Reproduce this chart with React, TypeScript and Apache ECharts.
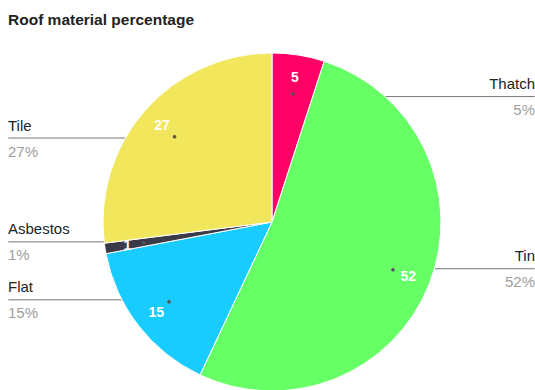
import React, { useEffect, useRef } from "react";
import * as echarts from "echarts";

const titleText = "Roof material percentage";
const categories = ["Thatch", "Tin", "Flat", "Asbestos", "Tile"];
const values = [5, 52, 15, 1, 27];
const colors = ["#FF0066", "#66FF66", "#19CCFF", "#3A3A48", "#F1E65C"];

const FONT = "'Liberation Sans', Arial, sans-serif";
const CENTER: [number, number] = [264, 222];
const R = 169;
const R_LABEL = 127;

export default function App() {
  const ref = useRef<HTMLDivElement>(null);
  useEffect(() => {
    if (!ref.current) return;
    const chart = echarts.init(ref.current, undefined, { renderer: "svg" });
    const data = categories.map((name, i) => ({ name, value: values[i] }));
    const transparent = { color: "rgba(0,0,0,0)", borderWidth: 0 };
    const common = {
      type: "pie" as const,
      center: CENTER,
      startAngle: 90,
      clockwise: true,
      silent: true,
      emphasis: { disabled: true },
      labelLayout: { hideOverlap: false },
      data,
    };
    chart.setOption({
      animation: false,
      title: {
        text: titleText,
        left: 0,
        top: 11,
        padding: 0,
        textStyle: { fontFamily: FONT, fontSize: 15.5, fontWeight: "bold", color: "#222" },
      },
      color: colors,
      series: [
        {
          ...common,
          radius: [0, R],
          itemStyle: { borderColor: "#ffffff", borderWidth: 1 },
          label: { show: false },
          labelLine: { show: false },
        },
        {
          ...common,
          radius: [118, R],
          itemStyle: transparent,
          label: {
            show: true,
            position: "inside",
            formatter: (p: any) => String(p.value),
            color: "#ffffff",
            fontFamily: FONT,
            fontSize: 14,
            fontWeight: "bold",
          },
          labelLine: { show: false },
        },
        {
          ...common,
          radius: [R_LABEL - 3, R_LABEL + 3],
          itemStyle: transparent,
          label: {
            show: true,
            position: "inside",
            formatter: "●",
            color: "#555555",
            fontSize: 8,
          },
          labelLine: { show: false },
        },
        {
          ...common,
          radius: [0, R_LABEL],
          itemStyle: transparent,
          label: {
            show: true,
            position: "outside",
            alignTo: "edge",
            edgeDistance: 0,
            distanceToLabelLine: 0,
            formatter: " ",
            fontSize: 1,
          },
          labelLine: {
            show: true,
            length: 0,
            length2: 10,
            lineStyle: { color: "#777777", width: 1 },
          },
        },
        {
          ...common,
          radius: [0, R_LABEL],
          itemStyle: transparent,
          label: {
            show: true,
            position: "outside",
            alignTo: "edge",
            edgeDistance: 0,
            color: "#222222",
            fontFamily: FONT,
            fontSize: 15,
            formatter: (p: any) => `{n|${p.name}}\n{p|${Math.round(p.percent)}%}`,
            rich: {
              n: { fontFamily: FONT, fontSize: 15, color: "#222222", lineHeight: 26 },
              p: { fontFamily: FONT, fontSize: 15, color: "#9E9E9E", lineHeight: 26 },
            },
          },
          labelLine: {
            show: true,
            length: 0,
            length2: 10,
            lineStyle: { color: "rgba(0,0,0,0)", width: 0 },
          },
        },
      ],
    });
    return () => chart.dispose();
  }, []);
  return (
    <div
      ref={ref}
      style={{ position: "absolute", left: 8, top: 0, width: 527, height: 390 }}
    />
  );
}
